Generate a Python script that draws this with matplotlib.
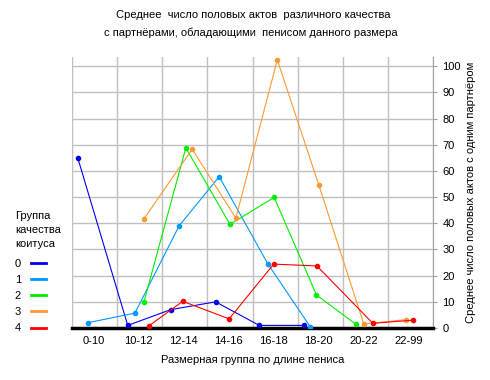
import matplotlib
matplotlib.use('Agg')
import matplotlib.pyplot as plt
from matplotlib.lines import Line2D

plt.rcParams['font.family'] = ['Liberation Sans', 'DejaVu Sans']

size_groups = ['0-10', '10-12', '12-14', '14-16', '16-18', '18-20', '20-22', '22-99']
quality_groups = ['0', '1', '2', '3', '4']

# x = position along the size axis (group index + share of the group width)
x0 = [0.12, 1.23, 2.18, 3.18, 4.15, 5.14]
y0 = [65.0, 1.0, 7.0, 10.0, 1.0, 1.0]
x1 = [0.34, 1.39, 2.37, 3.26, 4.34, 5.28]
y1 = [2.0, 5.7, 39.0, 57.8, 24.5, 0.5]
x2 = [1.59, 2.52, 3.50, 4.48, 5.42, 6.29]
y2 = [10.0, 68.8, 39.6, 49.9, 12.6, 1.5]
x3 = [1.59, 2.66, 3.63, 4.55, 5.47, 6.47, 7.40]
y3 = [41.7, 68.3, 42.0, 102.4, 54.7, 1.5, 3.2]
x4 = [1.70, 2.45, 3.48, 4.47, 5.43, 6.67, 7.57]
y4 = [0.8, 10.2, 3.5, 24.4, 23.7, 1.8, 3.0]

colors = ['#0000ee', '#0099ff', '#00ee00', '#ff9933', '#ff0000']
fs = 8

fig = plt.figure(figsize=(4.9, 3.8), dpi=100)
ax = fig.add_axes([0.1476, 0.1368, 0.7355, 0.7132])

for xs, ys, c in zip([x0, x1, x2, x3, x4], [y0, y1, y2, y3, y4], colors):
    ax.plot(xs, ys, color=c, lw=0.8, marker='o', ms=3, mec=c, mfc=c, zorder=3)

ax.set_xlim(0, len(size_groups))
ax.set_ylim(0, 103.5)

# grid
for i in range(len(size_groups) + 1):
    ax.axvline(i, color='#c0c0c0', lw=1, zorder=1)
for v in range(10, 101, 10):
    ax.axhline(v, color='#c0c0c0', lw=1, zorder=1)

ax.set_xticks([i + 0.47 for i in range(len(size_groups))])
ax.set_xticklabels(size_groups, fontsize=fs)
ax.tick_params(axis='x', length=0, pad=6)

ax.yaxis.tick_right()
ax.yaxis.set_label_position('right')
ax.set_yticks(range(0, 101, 10))
ax.tick_params(axis='y', length=3, color='#a0a0a0', labelsize=fs, pad=4)
ax.set_ylabel('Среднее число половых актов с одним партнёром', fontsize=fs, labelpad=4)

for s in ['top', 'left']:
    ax.spines[s].set_visible(False)
ax.spines['right'].set_color('#a0a0a0')
ax.spines['bottom'].set_color('black')
ax.spines['bottom'].set_linewidth(2.5)

ax.set_xlabel('Размерная группа по длине пениса', fontsize=fs, labelpad=6)

fig.text(0.516, 0.96, 'Среднее  число половых актов  различного качества',
         ha='center', va='center', fontsize=fs)
fig.text(0.512, 0.915, 'с партнёрами, обладающими  пенисом данного размера',
         ha='center', va='center', fontsize=fs)

handles = [Line2D([], [], color=c, lw=2) for c in colors]
leg = fig.legend(handles, quality_groups, loc='upper left', bbox_to_anchor=(0.01, 0.47),
                 frameon=False, markerfirst=False, fontsize=fs, handlelength=1.3,
                 handletextpad=0.9, labelspacing=0.55, title='Группа\nкачества\nкоитуса',
                 title_fontsize=fs, alignment='left')
leg.get_title().set_linespacing(1.45)
leg._legend_box.sep = 7.5  # a bit more room under the title

fig.savefig('out.png', dpi=100)
